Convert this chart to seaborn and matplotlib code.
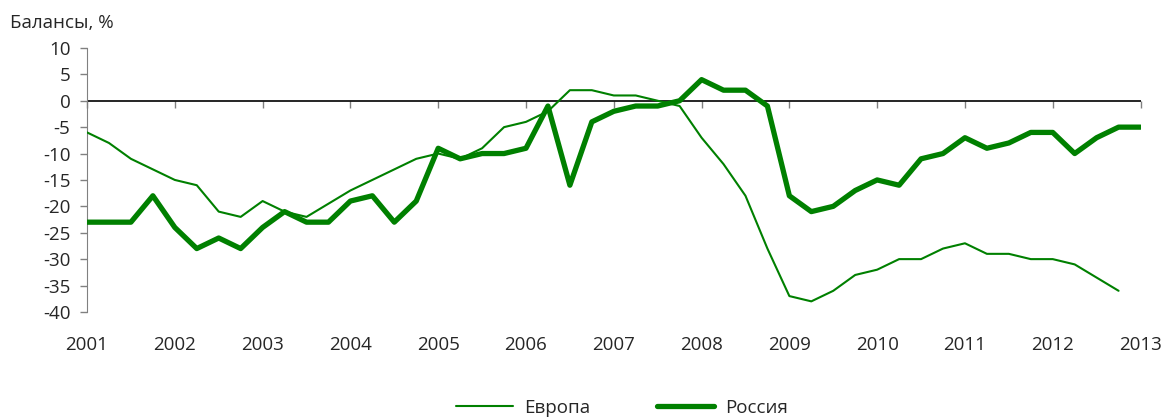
import numpy as np
import pandas as pd
import matplotlib
matplotlib.use("Agg")
import matplotlib.pyplot as plt
import seaborn as sns

# quarterly balances, 2001Q1 .. 2013Q1
russia = [-23, -23, -23, -18,
          -24, -28, -26, -28,
          -24, -21, -23, -23,
          -19, -18, -23, -19,
          -9, -11, -10, -10,
          -9, -1, -16, -4,
          -2, -1, -1, 0,
          4, 2, 2, -1,
          -18, -21, -20, -17,
          -15, -16, -11, -10,
          -7, -9, -8, -6,
          -6, -10, -7, -5,
          -5]
europe = [-6, -8, -11, -13,
          -15, -16, -21, -22,
          -19, -21, -22, -19.5,
          -17, -15, -13, -11,
          -10, -11, -9, -5,
          -4, -2, 2, 2,
          1, 1, 0, -1,
          -7, -12, -18, -28,
          -37, -38, -36, -33,
          -32, -30, -30, -28,
          -27, -29, -29, -30,
          -30, -31, -33.5, -36,
          np.nan]
years = list(range(2001, 2014))
yticks = list(range(-40, 11, 5))

quarters = 2001 + np.arange(len(russia)) / 4
df = pd.DataFrame({"t": quarters, "Европа": europe, "Россия": russia})

sns.set_style("ticks")
plt.rcParams["font.family"] = ["Open Sans", "DejaVu Sans"]

green = "#008000"
fs = 13.5
fig = plt.figure(figsize=(11.65, 4.17), dpi=100)
ax = fig.add_axes([0.0747, 0.252, 0.9043, 0.633])

# zero line (Excel-style crossing axis)
ax.axhline(0, color="black", linewidth=1.2, zorder=1)

sns.lineplot(data=df, x="t", y="Европа", ax=ax, color=green, linewidth=1.5, label="Европа", zorder=3)
sns.lineplot(data=df, x="t", y="Россия", ax=ax, color=green, linewidth=3.8, label="Россия", zorder=3)

ax.set_xlim(2001, 2013)
ax.set_ylim(-40, 10)
ax.set_yticks(yticks)
ax.set_yticklabels([str(v) for v in yticks], fontsize=fs)
ax.set_xticks(years)
ax.set_xticklabels([str(y) for y in years], fontsize=fs)
ax.tick_params(axis="x", length=0, pad=17)
ax.tick_params(axis="y", length=5, width=1, color="#808080", pad=7)
ax.set_xlabel("")
ax.set_ylabel("")
for s in ["top", "right", "bottom"]:
    ax.spines[s].set_visible(False)
ax.spines["left"].set_color("#808080")

# year tick marks hanging below the zero line
zero = ax.secondary_xaxis(40 / 50)
zero.set_xticks(years)
zero.set_xticklabels([])
zero.xaxis.set_ticks_position("bottom")
zero.tick_params(axis="x", direction="out", length=5, width=1, color="#808080")
for s in zero.spines.values():
    s.set_visible(False)

fig.text(0.009, 0.945, "Балансы, %", fontsize=fs, ha="left", va="center")

ax.get_legend().remove()
handles, labels = ax.get_legend_handles_labels()
fig.legend(handles, labels, loc="lower center", bbox_to_anchor=(0.534, -0.04), ncol=2,
           frameon=False, fontsize=fs, handlelength=3.0, handletextpad=0.6,
           columnspacing=3.6)

fig.savefig("out.png", dpi=100)
